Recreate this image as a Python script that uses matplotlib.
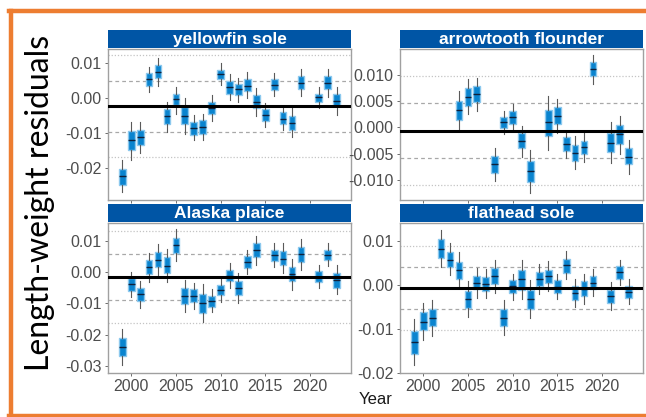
import numpy as np
import matplotlib
matplotlib.use("Agg")
import matplotlib.pyplot as plt
from matplotlib.lines import Line2D

# Years sampled per species (no survey in 2020)
yfs_years = [1999, 2000, 2001, 2002, 2003, 2004, 2005, 2006, 2007, 2008, 2009, 2010,
             2011, 2012, 2013, 2014, 2015, 2016, 2017, 2018, 2019, 2021, 2022, 2023]
yfs_med = [-0.0224, -0.0121, -0.0110, 0.0055, 0.0075, -0.0052, -0.0003, -0.0050, -0.0086, -0.0083,
           -0.0029, 0.0068, 0.0033, 0.0025, 0.0036, -0.0010, -0.0047, 0.0038, -0.0059, -0.0070,
           0.0044, 0.0003, 0.0044, -0.0008]
yfs_q1 = [-0.0248, -0.0148, -0.0133, 0.0034, 0.0057, -0.0074, -0.0021, -0.0075, -0.0105, -0.0102,
          -0.0046, 0.0055, 0.0012, 0.0010, 0.0021, -0.0028, -0.0065, 0.0022, -0.0074, -0.0090,
          0.0027, -0.0011, 0.0025, -0.0023]
yfs_q3 = [-0.0202, -0.0095, -0.0090, 0.0071, 0.0096, -0.0032, 0.0013, -0.0025, -0.0069, -0.0064,
          -0.0010, 0.0081, 0.0050, 0.0040, 0.0055, 0.0008, -0.0030, 0.0055, -0.0040, -0.0050,
          0.0063, 0.0012, 0.0063, 0.0012]
yfs_lo = [-0.0270, -0.0176, -0.0156, 0.0017, 0.0036, -0.0097, -0.0045, -0.0103, -0.0121, -0.0119,
          -0.0065, 0.0038, -0.0006, -0.0010, 0.0000, -0.0050, -0.0083, 0.0006, -0.0092, -0.0110,
          0.0006, -0.0028, 0.0003, -0.0047]
yfs_hi = [-0.0178, -0.0069, -0.0069, 0.0090, 0.0116, -0.0010, 0.0033, 0.0000, -0.0048, -0.0046,
          0.0010, 0.0100, 0.0070, 0.0058, 0.0074, 0.0029, -0.0013, 0.0072, -0.0023, -0.0029,
          0.0084, 0.0033, 0.0084, 0.0033]

atf_years = [2004, 2005, 2006, 2008, 2009, 2010, 2011, 2012, 2014, 2015, 2016, 2017, 2018,
             2019, 2021, 2022, 2023]
atf_med = [0.0033, 0.0058, 0.0063, -0.0070, 0.0010, 0.0019, -0.0026, -0.0083, 0.0010, 0.0022,
           -0.0032, -0.0048, -0.0038, 0.0111, -0.0029, -0.0013, -0.0056]
atf_q1 = [0.0015, 0.0041, 0.0048, -0.0086, -0.0002, 0.0007, -0.0040, -0.0103, -0.0017, 0.0006,
          -0.0045, -0.0063, -0.0051, 0.0097, -0.0046, -0.0032, -0.0070]
atf_q3 = [0.0050, 0.0074, 0.0078, -0.0055, 0.0020, 0.0031, -0.0011, -0.0064, 0.0034, 0.0039,
          -0.0019, -0.0034, -0.0025, 0.0124, -0.0010, 0.0004, -0.0040]
atf_lo = [-0.0003, 0.0025, 0.0032, -0.0102, -0.0013, -0.0007, -0.0056, -0.0124, -0.0043, -0.0010,
          -0.0059, -0.0079, -0.0065, 0.0083, -0.0067, -0.0050, -0.0088]
atf_hi = [0.0069, 0.0092, 0.0093, -0.0040, 0.0032, 0.0044, 0.0003, -0.0043, 0.0060, 0.0054,
          -0.0007, -0.0017, -0.0008, 0.0138, 0.0010, 0.0022, -0.0024]

akp_years = [1999, 2000, 2001, 2002, 2003, 2004, 2005, 2006, 2007, 2008, 2009, 2010, 2011,
             2012, 2013, 2014, 2016, 2017, 2018, 2019, 2021, 2022, 2023]
akp_med = [-0.0240, -0.0039, -0.0070, 0.0016, 0.0040, 0.0020, 0.0086, -0.0076, -0.0077, -0.0099,
           -0.0092, -0.0057, -0.0011, -0.0051, 0.0032, 0.0072, 0.0056, 0.0043, -0.0006, 0.0057,
           -0.0014, 0.0056, -0.0025]
akp_q1 = [-0.0269, -0.0059, -0.0091, -0.0007, 0.0017, -0.0004, 0.0061, -0.0101, -0.0096, -0.0129,
          -0.0110, -0.0073, -0.0029, -0.0073, 0.0013, 0.0049, 0.0036, 0.0022, -0.0029, 0.0033,
          -0.0031, 0.0038, -0.0049]
akp_q3 = [-0.0211, -0.0018, -0.0049, 0.0038, 0.0065, 0.0047, 0.0110, -0.0052, -0.0055, -0.0071,
          -0.0075, -0.0040, 0.0008, -0.0028, 0.0051, 0.0094, 0.0072, 0.0068, 0.0017, 0.0081,
          0.0003, 0.0072, -0.0002]
akp_lo = [-0.0298, -0.0078, -0.0113, -0.0032, -0.0010, -0.0031, 0.0035, -0.0127, -0.0119, -0.0160,
          -0.0128, -0.0094, -0.0049, -0.0097, -0.0006, 0.0024, 0.0017, -0.0002, -0.0057, 0.0006,
          -0.0050, 0.0019, -0.0071]
akp_hi = [-0.0182, 0.0000, -0.0028, 0.0062, 0.0091, 0.0073, 0.0137, -0.0025, -0.0034, -0.0038,
          -0.0053, -0.0018, 0.0028, -0.0004, 0.0070, 0.0117, 0.0094, 0.0093, 0.0043, 0.0105,
          0.0022, 0.0093, 0.0022]

fhs_years = [1999, 2000, 2001, 2002, 2003, 2004, 2005, 2006, 2007, 2008, 2009, 2010,
             2011, 2012, 2013, 2014, 2015, 2016, 2017, 2018, 2019, 2021, 2022, 2023]
fhs_med = [-0.0129, -0.0083, -0.0075, 0.0083, 0.0058, 0.0034, -0.0032, 0.0005, 0.0002, 0.0020,
           -0.0075, -0.0002, 0.0014, -0.0032, 0.0014, 0.0020, -0.0004, 0.0045, -0.0019, -0.0008,
           0.0005, -0.0026, 0.0029, -0.0016]
fhs_q1 = [-0.0156, -0.0103, -0.0094, 0.0062, 0.0041, 0.0014, -0.0053, -0.0010, -0.0013, 0.0002,
          -0.0094, -0.0017, -0.0011, -0.0054, -0.0002, 0.0004, -0.0017, 0.0028, -0.0034, -0.0026,
          -0.0010, -0.0040, 0.0014, -0.0030]
fhs_q3 = [-0.0105, -0.0062, -0.0055, 0.0104, 0.0075, 0.0053, -0.0013, 0.0020, 0.0019, 0.0039,
          -0.0055, 0.0011, 0.0035, -0.0011, 0.0030, 0.0035, 0.0011, 0.0060, -0.0002, 0.0009,
          0.0020, -0.0011, 0.0043, -0.0002]
fhs_lo = [-0.0182, -0.0124, -0.0115, 0.0041, 0.0023, -0.0005, -0.0073, -0.0029, -0.0030, -0.0017,
          -0.0114, -0.0034, -0.0032, -0.0075, -0.0021, -0.0014, -0.0032, 0.0013, -0.0050, -0.0043,
          -0.0026, -0.0056, -0.0001, -0.0044]
fhs_hi = [-0.0077, -0.0041, -0.0034, 0.0126, 0.0095, 0.0074, 0.0009, 0.0039, 0.0036, 0.0058,
          -0.0034, 0.0026, 0.0058, 0.0011, 0.0047, 0.0054, 0.0026, 0.0077, 0.0014, 0.0026,
          0.0036, 0.0006, 0.0056, 0.0013]

species = ["yellowfin sole", "arrowtooth flounder", "Alaska plaice", "flathead sole"]
# overall mean and sd of residuals (black line, dashed = 1 sd, dotted = 2 sd)
ref_mean = [-0.0023, -0.0006, -0.0016, -0.0007]
ref_sd = [0.0073, 0.0052, 0.0073, 0.0048]
y_ticks = [[0.01, 0.0, -0.01, -0.02],
           [0.010, 0.005, 0.0, -0.005, -0.010],
           [0.01, 0.0, -0.01, -0.02, -0.03],
           [0.01, 0.0, -0.01, -0.02]]
y_fmt = ["%.2f", "%.3f", "%.2f", "%.2f"]
y_lims = [(-0.0292, 0.0141), (-0.0138, 0.0149), (-0.0322, 0.0157), (-0.0200, 0.0141)]

data = [
    (yfs_years, yfs_med, yfs_q1, yfs_q3, yfs_lo, yfs_hi),
    (atf_years, atf_med, atf_q1, atf_q3, atf_lo, atf_hi),
    (akp_years, akp_med, akp_q1, akp_q3, akp_lo, akp_hi),
    (fhs_years, fhs_med, fhs_q1, fhs_q3, fhs_lo, fhs_hi),
]

W, H = 646, 417
fig = plt.figure(figsize=(W / 100, H / 100), dpi=100)
plt.rcParams['font.family'] = ['Liberation Sans', 'DejaVu Sans']

# panel boxes in pixels: (left, top, right, bottom, strip top)
panels = [(108, 49, 351, 200, 30), (400, 49, 643, 200, 30),
          (108, 223, 351, 373, 204), (400, 223, 643, 373, 204)]

strip_col = "#0055a5"
box_col = "#0a84cf"
box_edge = "#8cc9ee"

for i, (l, t, r, b, st) in enumerate(panels):
    ax = fig.add_axes([l / W, 1 - b / H, (r - l) / W, (b - t) / H])
    yrs, med, q1, q3, lo, hi = data[i]
    stats = [dict(med=m, q1=a, q3=c, whislo=d, whishi=e, label=str(y))
             for y, m, a, c, d, e in zip(yrs, med, q1, q3, lo, hi)]

    m, s = ref_mean[i], ref_sd[i]
    for k in (-2, 2):
        ax.axhline(m + k * s, color="#c4c4c4", lw=0.9, ls=(0, (1, 1.5)), zorder=1)
    for k in (-1, 1):
        ax.axhline(m + k * s, color="#a8a8a8", lw=0.9, ls=(0, (3, 2.5)), zorder=1)

    ax.bxp(stats, positions=yrs, widths=0.75, patch_artist=True, showfliers=False,
           showcaps=False, manage_ticks=False,
           boxprops=dict(facecolor=box_col, edgecolor=box_edge, linewidth=1.0),
           medianprops=dict(color="#10203a", linewidth=1.0),
           whiskerprops=dict(color="#5a5a5a", linewidth=0.8), zorder=2)

    ax.axhline(m, color="black", lw=2.2, zorder=3)

    ax.set_xlim(1997.4, 2024.6)
    ax.set_ylim(*y_lims[i])
    ax.set_yticks(y_ticks[i])
    ax.set_yticklabels([y_fmt[i] % abs(v) if abs(v) < 1e-9 else y_fmt[i] % v
                        for v in y_ticks[i]])
    ax.set_xticks([2000, 2005, 2010, 2015, 2020])
    if i >= 2:
        ax.set_xticklabels(["2000", "2005", "2010", "2015", "2020"])
    else:
        ax.set_xticklabels([])
    ax.tick_params(axis="both", length=2.5, width=0.6, color="#555555",
                   labelsize=11.5, labelcolor="#4d4d4d", pad=2)
    for sp in ax.spines.values():
        sp.set_color("#a0a0a0")
        sp.set_linewidth(1.0)

    # facet strip
    sax = fig.add_axes([l / W, 1 - (t - 1) / H, (r - l) / W, (t - 1 - st) / H])
    sax.set_xticks([])
    sax.set_yticks([])
    sax.set_facecolor(strip_col)
    for sp in sax.spines.values():
        sp.set_visible(False)
    sax.text(0.5, 0.45, species[i], color="white", fontsize=12.5, fontweight="bold",
             ha="center", va="center", transform=sax.transAxes)

fig.text(40 / W, 1 - 203 / H, "Length-weight residuals", rotation=90, ha="center",
         va="center", fontsize=23, family=["Lato", "DejaVu Sans"], color="black")
fig.text(376 / W, 1 - 399 / H, "Year", ha="center", va="center", fontsize=12,
         color="#1a1a1a")

# orange frame of the slide
orange = "#ed7d31"
fig.add_artist(Line2D([10.5 / W, 10.5 / W], [1 - 10.5 / H, 1 - 416 / H],
                      color=orange, lw=3.2, transform=fig.transFigure))
fig.add_artist(Line2D([9 / W, 1.0], [1 - 10.5 / H, 1 - 10.5 / H],
                      color=orange, lw=3.2, transform=fig.transFigure))
fig.add_artist(Line2D([9 / W, 1.0], [1 - 416 / H, 1 - 416 / H],
                      color=orange, lw=3.2, transform=fig.transFigure))

fig.savefig("out.png", dpi=100)
